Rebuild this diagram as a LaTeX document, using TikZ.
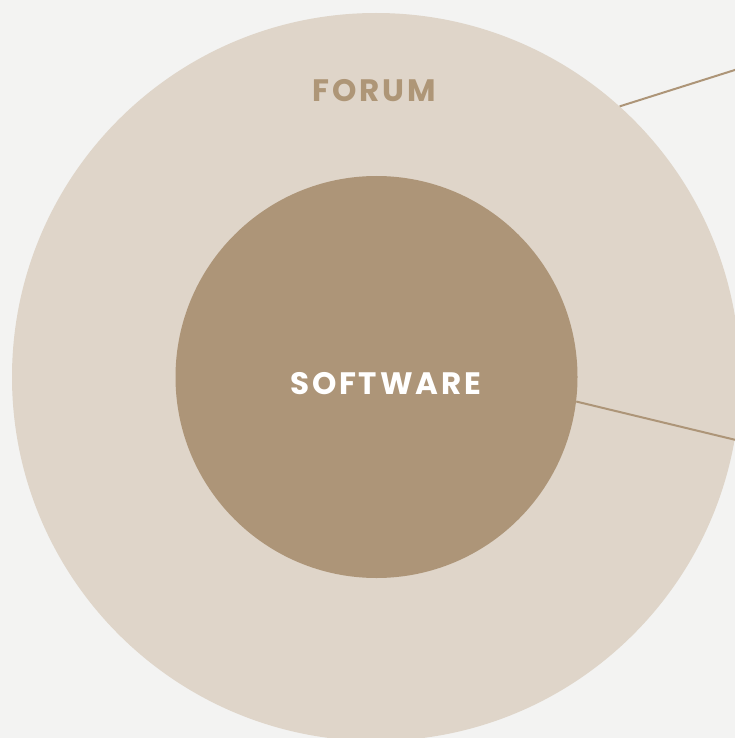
\documentclass[tikz,border=0pt]{standalone}
\usepackage{fontspec}
\newfontfamily\lblfont[LetterSpace=9]{Poppins}
\definecolor{bg}{HTML}{F3F3F2}
\definecolor{outerc}{HTML}{DFD5C9}
\definecolor{innerc}{HTML}{AD9578}
\definecolor{forumc}{HTML}{AE9677}
\begin{document}
\begin{tikzpicture}[x=1pt,y=-1pt,
  ring/.style={circle,draw=none,inner sep=0pt},
  lbl/.style={inner sep=0pt,font=\lblfont\bfseries\fontsize{31}{31}\selectfont},
  conn/.style={draw=innerc,line width=2pt}]
\fill[bg] (0,0) rectangle (735,738);
\useasboundingbox (0,0) rectangle (735,738);
\clip (0,0) rectangle (735,738);
\node[ring,fill=outerc,minimum size=728pt] (outer) at (376,377) {};
\node[ring,fill=innerc,minimum size=402pt] (inner) at (376.5,377) {};
\node[lbl,text=forumc] (forum) at (374,90.5) {FORUM};
\node[lbl,text=white] (software) at (385.5,384) {SOFTWARE};
\coordinate (e1) at (738,69);
\coordinate (e2) at (738,440.5);
\draw[conn] (outer.48.9) -- (e1);
\draw[conn] (inner.-7.4) -- (e2);
\end{tikzpicture}
\end{document}
